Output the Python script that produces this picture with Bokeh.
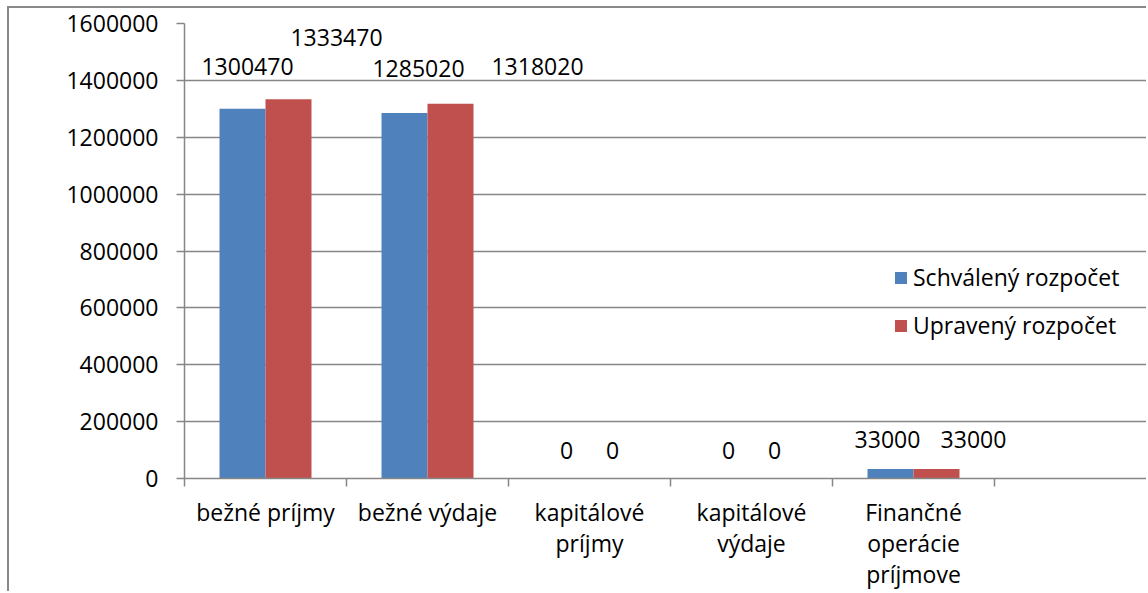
from bokeh.plotting import figure
from bokeh.models import (ColumnDataSource, FixedTicker, Legend, LegendItem,
                          Range1d, NumeralTickFormatter)
from bokeh.embed import file_html
from bokeh.resources import INLINE
from bokeh.core.properties import value

# ---------------- data ----------------
categories = ["bežné príjmy", "bežné výdaje", "kapitálové\npríjmy",
              "kapitálové\nvýdaje", "Finančné\noperácie\npríjmove"]
schvaleny = [1300470, 1285020, 0, 0, 33000]
upraveny = [1333470, 1318020, 0, 0, 33000]
series_names = ["Schválený rozpočet", "Upravený rozpočet"]
y_ticks = [0, 200000, 400000, 600000, 800000, 1000000, 1200000, 1400000, 1600000]

# ---------------- style ----------------
FONT = "Open Sans"
FS = "23px"
GRAY = "#868686"
BLUE = "#4F81BD"
RED = "#C0504D"
BAR = 46 / 162.0

# label nudges (screen px) for the data labels, blue then red
lab_dx = [5, 14, 0, 0, -3, 48, 87, 0, 0, 37]
lab_dy = [-42, -45, -28, -28, -30, -62, -37, -28, -28, -30]

centers = [i + 0.5 for i in range(len(categories))]
blue_x = [c - BAR / 2 for c in centers]
red_x = [c + BAR / 2 for c in centers]

p = figure(width=1139, height=585, output_backend="svg", toolbar_location=None,
           x_range=Range1d(0, 964 / 162.0), y_range=Range1d(0, 1600000),
           min_border_left=175, min_border_right=0, min_border_top=15,
           min_border_bottom=112)
p.margin = (6, 0, 0, 7)
p.styles = {"border-left": "2px solid #898989", "border-top": "2px solid #898989"}
p.outline_line_color = None
p.background_fill_color = "white"
p.border_fill_color = "white"

rb = p.vbar(x="x", top="top", width=BAR,
            source=ColumnDataSource(dict(x=blue_x, top=schvaleny)),
            fill_color=BLUE, line_color=None)
rr = p.vbar(x="x", top="top", width=BAR,
            source=ColumnDataSource(dict(x=red_x, top=upraveny)),
            fill_color=RED, line_color=None)

lab_src = ColumnDataSource(dict(
    x=blue_x + red_x,
    y=schvaleny + upraveny,
    text=[str(v) for v in schvaleny + upraveny],
    dx=lab_dx, dy=lab_dy))
p.text(x="x", y="y", text="text", source=lab_src, x_offset="dx", y_offset="dy",
       text_align="center", text_baseline="middle",
       text_font=value(FONT), text_font_size=FS, text_color="black")

# y axis
p.yaxis.ticker = FixedTicker(ticks=y_ticks, minor_ticks=[])
p.yaxis.formatter = NumeralTickFormatter(format="0")
p.yaxis.axis_line_color = GRAY
p.yaxis.axis_line_width = 1.5
p.yaxis.major_tick_line_color = GRAY
p.yaxis.major_tick_line_width = 1.5
p.yaxis.major_tick_in = 0
p.yaxis.major_tick_out = 8
p.yaxis.minor_tick_line_color = None
p.yaxis.major_label_standoff = 18
p.yaxis.major_label_text_font = FONT
p.yaxis.major_label_text_font_size = FS
p.yaxis.major_label_text_color = "black"

# x axis: labels at centres, ticks at boundaries
p.xaxis.ticker = FixedTicker(ticks=centers,
                             minor_ticks=list(range(len(categories) + 1)))
p.xaxis.major_label_overrides = {c: lab for c, lab in zip(centers, categories)}
p.xaxis.axis_line_color = GRAY
p.xaxis.axis_line_width = 1.5
p.xaxis.major_tick_line_color = None
p.xaxis.minor_tick_line_color = GRAY
p.xaxis.minor_tick_line_width = 1.5
p.xaxis.minor_tick_in = 0
p.xaxis.minor_tick_out = 8
p.xaxis.major_label_standoff = 9
p.xaxis.major_label_text_font = FONT
p.xaxis.major_label_text_font_size = FS
p.xaxis.major_label_text_color = "black"
p.xaxis.major_label_text_line_height = 0.98

p.xgrid.visible = False
p.ygrid.ticker = FixedTicker(ticks=y_ticks, minor_ticks=[])
p.ygrid.grid_line_color = GRAY
p.ygrid.grid_line_width = 1.5

legend = Legend(items=[LegendItem(label=series_names[0], renderers=[rb]),
                       LegendItem(label=series_names[1], renderers=[rr])],
                location=(709, 137), orientation="vertical",
                glyph_width=15, glyph_height=15, label_height=30,
                spacing=16, padding=0, margin=0, label_standoff=5,
                label_text_font=FONT, label_text_font_size=FS,
                label_text_color="black",
                border_line_color=None, background_fill_alpha=0)
p.add_layout(legend, "center")

open("out.html", "w").write(file_html(p, INLINE))
